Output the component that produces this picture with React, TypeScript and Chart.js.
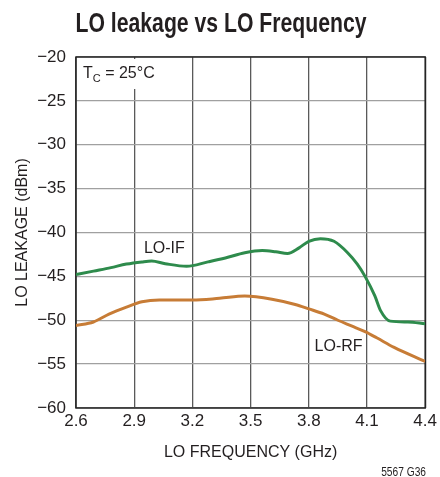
import React, { useEffect, useRef } from "react";
import { Chart, registerables } from "chart.js";

Chart.register(...registerables);

// ---- data ----
const freqIF = [2.6, 2.69, 2.78, 2.86, 2.94, 2.99, 3.06, 3.17, 3.28, 3.37, 3.47, 3.56, 3.63, 3.69, 3.75, 3.8, 3.86, 3.93, 4.0, 4.05, 4.09, 4.14, 4.17, 4.22, 4.31, 4.4];
const leakIF = [-44.8, -44.4, -44.0, -43.6, -43.35, -43.25, -43.55, -43.85, -43.35, -42.9, -42.3, -42.05, -42.2, -42.4, -41.75, -41.0, -40.7, -41.0, -42.3, -43.6, -45.0, -47.2, -48.9, -50.1, -50.2, -50.4];

const freqRF = [2.6, 2.69, 2.77, 2.86, 2.94, 3.03, 3.2, 3.34, 3.47, 3.61, 3.73, 3.8, 3.88, 3.95, 4.02, 4.09, 4.15, 4.24, 4.4];
const leakRF = [-50.6, -50.2, -49.3, -48.5, -47.9, -47.7, -47.7, -47.5, -47.25, -47.6, -48.2, -48.7, -49.3, -50.0, -50.65, -51.3, -52.0, -53.1, -54.7];

const xTicks = [2.6, 2.9, 3.2, 3.5, 3.8, 4.1, 4.4];
const yTicks = [-60, -55, -50, -45, -40, -35, -30, -25, -20];

const titleText = "LO leakage vs LO Frequency";
const xTitle = "LO FREQUENCY (GHz)";
const yTitle = "LO LEAKAGE (dBm)";
const seriesNames = ["LO-IF", "LO-RF"];
const figureCode = "5567 G36";

const FONT = "'Liberation Sans', Arial, sans-serif";
const TEXT = "#231f20";
const GREEN = "#2e8b4c";
const ORANGE = "#c77c36";

const toPts = (xs: number[], ys: number[]) => xs.map((x, i) => ({ x, y: ys[i] }));

const overlay = {
  id: "overlay",
  beforeDatasetsDraw(chart: any) {
    const { ctx, chartArea: a } = chart;
    ctx.save();
    // mask behind Tc label
    ctx.fillStyle = "#fff";
    ctx.fillRect(a.left + 2, a.top + 2, 72, 30);
    ctx.strokeStyle = "#222";
    ctx.lineWidth = 1.5;
    ctx.strokeRect(a.left, a.top, a.right - a.left, a.bottom - a.top);
    ctx.restore();
  },
  afterDraw(chart: any) {
    const { ctx, chartArea: a } = chart;
    const xs = chart.scales.x;
    const ys = chart.scales.y;
    ctx.save();
    ctx.fillStyle = TEXT;
    ctx.textBaseline = "alphabetic";
    // title (condensed by horizontal scaling)
    ctx.save();
    ctx.font = `bold 27px ${FONT}`;
    ctx.textAlign = "center";
    ctx.translate(221, 32);
    ctx.scale(0.785, 1);
    ctx.fillText(titleText, 0, 0);
    ctx.restore();
    // Tc label
    ctx.textAlign = "left";
    ctx.font = `16px ${FONT}`;
    let x = a.left + 7;
    const by = a.top + 21;
    ctx.fillText("T", x, by);
    x += ctx.measureText("T").width;
    ctx.font = `11px ${FONT}`;
    ctx.fillText("C", x, by + 4);
    x += ctx.measureText("C").width;
    ctx.font = `16px ${FONT}`;
    ctx.fillText(" = 25°C", x, by);
    // series labels
    ctx.textBaseline = "middle";
    ctx.fillText(seriesNames[0], xs.getPixelForValue(2.95), ys.getPixelForValue(-41.8));
    ctx.fillText(seriesNames[1], xs.getPixelForValue(3.83), ys.getPixelForValue(-52.95));
    // figure code
    ctx.textAlign = "right";
    ctx.textBaseline = "alphabetic";
    ctx.save();
    ctx.font = `12px ${FONT}`;
    ctx.translate(426, 476);
    ctx.scale(0.85, 1);
    ctx.fillText(figureCode, 0, 0);
    ctx.restore();
    ctx.restore();
  },
};

export default function App() {
  const ref = useRef<HTMLCanvasElement>(null);
  useEffect(() => {
    if (!ref.current) return;
    const chart = new Chart(ref.current, {
      type: "line",
      data: {
        datasets: [
          {
            label: seriesNames[0],
            data: toPts(freqIF, leakIF),
            borderColor: GREEN,
            borderWidth: 3,
            pointRadius: 0,
            cubicInterpolationMode: "monotone",
            fill: false,
          },
          {
            label: seriesNames[1],
            data: toPts(freqRF, leakRF),
            borderColor: ORANGE,
            borderWidth: 3,
            pointRadius: 0,
            cubicInterpolationMode: "monotone",
            fill: false,
          },
        ],
      },
      options: {
        responsive: false,
        animation: false,
        events: [],
        layout: { padding: { top: 57, right: 12, left: 0, bottom: 0 } },
        plugins: { legend: { display: false }, tooltip: { enabled: false }, title: { display: false } },
        scales: {
          x: {
            type: "linear",
            min: 2.6,
            max: 4.4,
            afterFit: (s: any) => { s.height = 69; },
            afterBuildTicks: (s: any) => { s.ticks = xTicks.map((v) => ({ value: v })); },
            ticks: {
              color: TEXT,
              padding: 3,
              maxRotation: 0,
              autoSkip: false,
              font: { family: FONT, size: 17 },
              callback: (v: any) => Number(v).toFixed(1),
            },
            grid: { color: "#5a5a5a", lineWidth: 1.3, drawTicks: false },
            border: { display: false },
            title: {
              display: true,
              text: xTitle,
              color: TEXT,
              font: { family: FONT, size: 16 },
              padding: { top: 0, bottom: 15 },
            },
          },
          y: {
            min: -60,
            max: -20,
            afterFit: (s: any) => { s.width = 76; },
            afterBuildTicks: (s: any) => { s.ticks = yTicks.map((v) => ({ value: v })); },
            ticks: {
              color: TEXT,
              padding: 10,
              autoSkip: false,
              font: { family: FONT, size: 17 },
              callback: (v: any) => String(v).replace("-", "\u2212"),
            },
            grid: { color: "#a0a0a0", lineWidth: 1.3, drawTicks: false },
            border: { display: false },
            title: {
              display: true,
              text: yTitle,
              color: TEXT,
              font: { family: FONT, size: 16 },
              padding: { top: 13, bottom: 0 },
            },
          },
        },
      },
      plugins: [overlay],
    } as any);
    return () => chart.destroy();
  }, []);
  return (
    <div style={{ position: "absolute", left: 0, top: 0, width: 440, height: 477, background: "#fff" }}>
      <canvas ref={ref} width={440} height={477} style={{ width: 440, height: 477 }} />
    </div>
  );
}
